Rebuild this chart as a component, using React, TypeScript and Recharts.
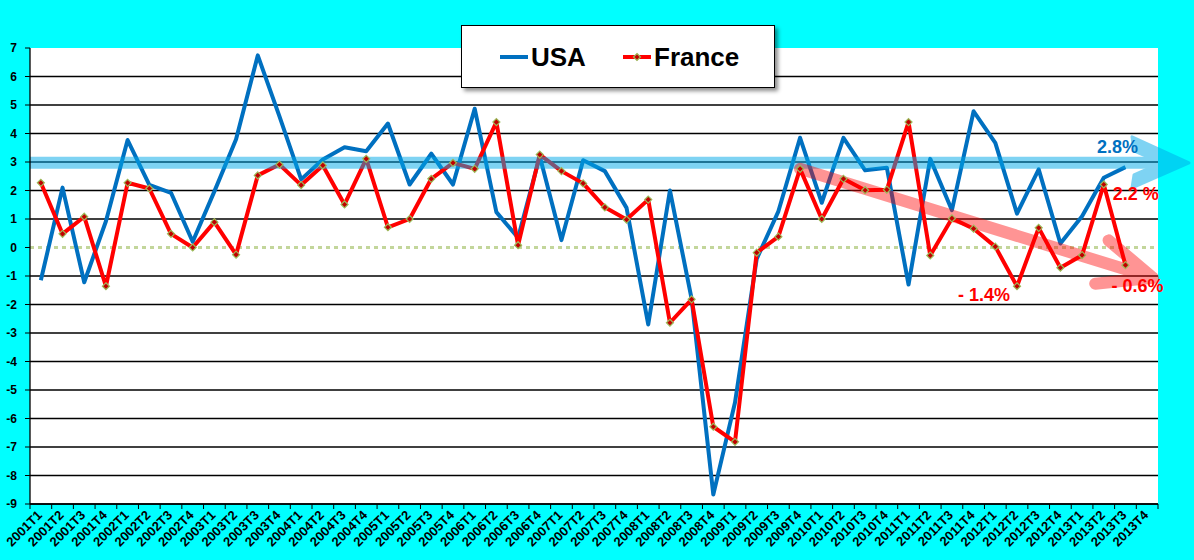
import React from 'react';
import {
  LineChart,
  Line,
  XAxis,
  YAxis,
  CartesianGrid,
  ReferenceLine,
  ReferenceDot,
  Legend,
} from 'recharts';

const quarters = [
  '2001T1', '2001T2', '2001T3', '2001T4', '2002T1', '2002T2', '2002T3', '2002T4',
  '2003T1', '2003T2', '2003T3', '2003T4', '2004T1', '2004T2', '2004T3', '2004T4',
  '2005T1', '2005T2', '2005T3', '2005T4', '2006T1', '2006T2', '2006T3', '2006T4',
  '2007T1', '2007T2', '2007T3', '2007T4', '2008T1', '2008T2', '2008T3', '2008T4',
  '2009T1', '2009T2', '2009T3', '2009T4', '2010T1', '2010T2', '2010T3', '2010T4',
  '2011T1', '2011T2', '2011T3', '2011T4', '2012T1', '2012T2', '2012T3', '2012T4',
  '2013T1', '2013T2', '2013T3', '2013T4',
];

const usa = [
  -1.15, 2.1, -1.22, 0.92, 3.77, 2.2, 1.92, 0.2,
  1.97, 3.8, 6.74, 4.6, 2.39, 3.09, 3.52, 3.38,
  4.35, 2.21, 3.29, 2.21, 4.87, 1.24, 0.34, 3.2,
  0.26, 3.06, 2.68, 1.39, -2.7, 2.0, -1.8, -8.67,
  -5.44, -0.4, 1.27, 3.85, 1.57, 3.85, 2.71, 2.8,
  -1.3, 3.11, 1.31, 4.78, 3.67, 1.19, 2.74, 0.14,
  1.1, 2.45, 2.82, null,
];

const france = [
  2.27, 0.48, 1.08, -1.36, 2.27, 2.07, 0.48, 0,
  0.89, -0.25, 2.53, 2.91, 2.19, 2.88, 1.51, 3.11,
  0.71, 1.0, 2.41, 2.97, 2.76, 4.4, 0.08, 3.26,
  2.68, 2.25, 1.41, 0.98, 1.68, -2.64, -1.82, -6.29,
  -6.82, -0.18, 0.38, 2.76, 1.0, 2.41, 2.01, 2.03,
  4.4, -0.28, 1.02, 0.66, 0.03, -1.36, 0.69, -0.71,
  -0.27, 2.21, -0.62, null,
];

const yTicks = [-9, -8, -7, -6, -5, -4, -3, -2, -1, 0, 1, 2, 3, 4, 5, 6, 7];
const gridValues = yTicks.filter((v) => v !== 0 && v !== 7);

// annotation levels
const usaLevel = 2.97;
const franceTrendStart = 2.76;
const franceTrendEnd = -1.0;

const data = quarters.map((q, i) => ({ q, usa: usa[i], france: france[i] }));

const FONT = "'Liberation Sans', Arial, sans-serif";
const BLUE = '#0070C0';
const RED = '#FF0000';
const PLOT_W = 1128;
const HALF_BAND = PLOT_W / quarters.length / 2;

const QuarterTick = (props: any) => {
  const { x, y, payload, index } = props;
  const axisY = y - 7;
  return (
    <g>
      <line x1={x - HALF_BAND} y1={axisY} x2={x - HALF_BAND} y2={axisY + 5} stroke="#000" />
      {index === quarters.length - 1 && (
        <line x1={x + HALF_BAND} y1={axisY} x2={x + HALF_BAND} y2={axisY + 5} stroke="#000" />
      )}
      <text
        x={x + 2}
        y={y + 5}
        transform={`rotate(-45 ${x + 2} ${y + 5})`}
        textAnchor="end"
        fontSize={13}
        fontWeight="bold"
        fontFamily={FONT}
        fill="#000"
      >
        {payload.value}
      </text>
    </g>
  );
};

const Diamond = ({ cx, cy, s = 3.5 }: { cx: number; cy: number; s?: number }) => (
  <path
    d={`M${cx},${cy - s}L${cx + s},${cy}L${cx},${cy + s}L${cx - s},${cy}Z`}
    fill="#C00000"
    stroke="#9BBB59"
    strokeWidth={1.2}
  />
);

const FranceDot = (props: any) => {
  const { cx, cy, value } = props;
  if (value == null || cx == null || cy == null) return null;
  return <Diamond cx={cx} cy={cy} />;
};

const UsaBand = (props: any) => {
  const { x, y, width } = props.viewBox;
  const r = x + width;
  const c = '#00A9E9';
  const pts = [
    [r - 26, y - 26],
    [r + 31, y],
    [r - 26, y + 25],
    [r - 24, y + 12],
    [r + 3, y],
    [r - 24, y - 12],
  ]
    .map((p) => p.join(','))
    .join(' ');
  return (
    <g>
      <g opacity={0.5}>
        <line x1={x} y1={y} x2={r} y2={y} stroke={c} strokeWidth={12} />
        <polygon points={pts} fill={c} stroke={c} strokeWidth={3} strokeLinejoin="round" />
      </g>
      <text x={r - 20} y={y - 10} textAnchor="end" fontSize={18} fontWeight="bold" fontFamily={FONT} fill={BLUE}>
        2.8%
      </text>
    </g>
  );
};

const TrendArrow = (props: any) => {
  const { x, y, width, height } = props.viewBox;
  const len = Math.hypot(width, height);
  const ux = width / len;
  const uy = height / len;
  const tx = x + width + ux * 6;
  const ty = y + height + uy * 6;
  const back = Math.atan2(-uy, -ux);
  const arm = (deg: number, l: number) => {
    const a = back + (deg * Math.PI) / 180;
    return `${tx + l * Math.cos(a)},${ty + l * Math.sin(a)}`;
  };
  return (
    <g opacity={0.42}>
      <path
        d={`M${x},${y}L${tx},${ty}M${arm(23, 58)}L${tx},${ty}L${arm(-23, 58)}`}
        stroke={RED}
        strokeWidth={12}
        strokeLinecap="round"
        strokeLinejoin="round"
        fill="none"
      />
    </g>
  );
};

const Note = (props: any) => {
  const { viewBox, text, dx, dy, anchor } = props;
  return (
    <text
      x={viewBox.x + dx}
      y={viewBox.y + dy}
      textAnchor={anchor}
      fontSize={18}
      fontWeight="bold"
      fontFamily={FONT}
      fill={RED}
    >
      {text}
    </text>
  );
};

const LegendBox = () => (
  <div
    style={{
      width: 314,
      height: 63,
      boxSizing: 'border-box',
      border: '1px solid #000',
      background: '#fff',
      boxShadow: '3px 3px 4px rgba(0,0,0,0.45)',
    }}
  >
    <svg width={312} height={61} style={{ display: 'block' }}>
      <line x1={38} y1={31} x2={66} y2={31} stroke={BLUE} strokeWidth={4} />
      <text x={69} y={40} fontSize={26} fontWeight="bold" fontFamily={FONT} fill="#000">
        USA
      </text>
      <line x1={161} y1={31} x2={189} y2={31} stroke={RED} strokeWidth={4} />
      <Diamond cx={175} cy={31} />
      <text x={192} y={40} fontSize={26} fontWeight="bold" fontFamily={FONT} fill="#000">
        France
      </text>
    </svg>
  </div>
);

export default function App() {
  return (
    <div style={{ position: 'absolute', left: 0, top: 0, width: 1194, height: 560, background: '#00FFFF' }}>
      <LineChart width={1194} height={560} data={data} margin={{ top: 48, right: 36, bottom: 0, left: 0 }}>
        <CartesianGrid
          vertical={false}
          horizontalValues={gridValues}
          stroke="#000"
          strokeWidth={1.3}
          fill="#fff"
          fillOpacity={1}
        />
        <XAxis
          dataKey="q"
          interval={0}
          padding={{ left: HALF_BAND, right: HALF_BAND }}
          tickSize={5}
          tickMargin={2}
          tickLine={false}
          axisLine={{ stroke: '#000', strokeWidth: 1.3 }}
          tick={<QuarterTick />}
          height={56}
        />
        <XAxis
          xAxisId="top"
          orientation="top"
          dataKey="q"
          height={0}
          tick={false}
          tickLine={false}
          axisLine={{ stroke: '#888' }}
        />
        <YAxis
          domain={[-9, 7]}
          ticks={yTicks}
          interval={0}
          width={30}
          tickSize={5}
          tickMargin={8}
          axisLine={{ stroke: '#000', strokeWidth: 1.3 }}
          tickLine={{ stroke: '#000' }}
          tick={{ fill: '#000', fontSize: 12, fontWeight: 'bold', fontFamily: FONT }}
        />
        <YAxis
          yAxisId="right"
          orientation="right"
          domain={[-9, 7]}
          width={0}
          tick={false}
          tickLine={false}
          axisLine={{ stroke: '#888' }}
        />
        <ReferenceLine y={0} stroke="#C3D69B" strokeWidth={3} strokeDasharray="4 4" />
        <Line
          dataKey="usa"
          stroke={BLUE}
          strokeWidth={4}
          strokeLinejoin="round"
          dot={false}
          activeDot={false}
          isAnimationActive={false}
          connectNulls={false}
        />
        <Line
          dataKey="france"
          stroke={RED}
          strokeWidth={4}
          strokeLinejoin="round"
          dot={<FranceDot />}
          activeDot={false}
          isAnimationActive={false}
          connectNulls={false}
        />
        <ReferenceLine y={usaLevel} stroke="none" ifOverflow="visible" label={<UsaBand />} />
        <ReferenceLine
          segment={[
            { x: '2009T4', y: franceTrendStart },
            { x: '2013T4', y: franceTrendEnd },
          ]}
          stroke="none"
          ifOverflow="visible"
          label={<TrendArrow />}
        />
        <ReferenceDot
          x={quarters[49]}
          y={france[49] as number}
          r={0}
          fill="none"
          stroke="none"
          label={<Note text="2.2 %" dx={9} dy={15} anchor="start" />}
        />
        <ReferenceDot
          x={quarters[45]}
          y={france[45] as number}
          r={0}
          fill="none"
          stroke="none"
          label={<Note text="- 1.4%" dx={-7} dy={15} anchor="end" />}
        />
        <ReferenceDot
          x={quarters[50]}
          y={france[50] as number}
          r={0}
          fill="none"
          stroke="none"
          ifOverflow="visible"
          label={<Note text="- 0.6%" dx={-14} dy={27} anchor="start" />}
        />
        <Legend
          content={<LegendBox />}
          layout="horizontal"
          verticalAlign="middle"
          align="center"
          width={314}
          height={63}
          wrapperStyle={{ left: 461, top: 25, width: 314, height: 63 }}
        />
      </LineChart>
    </div>
  );
}
